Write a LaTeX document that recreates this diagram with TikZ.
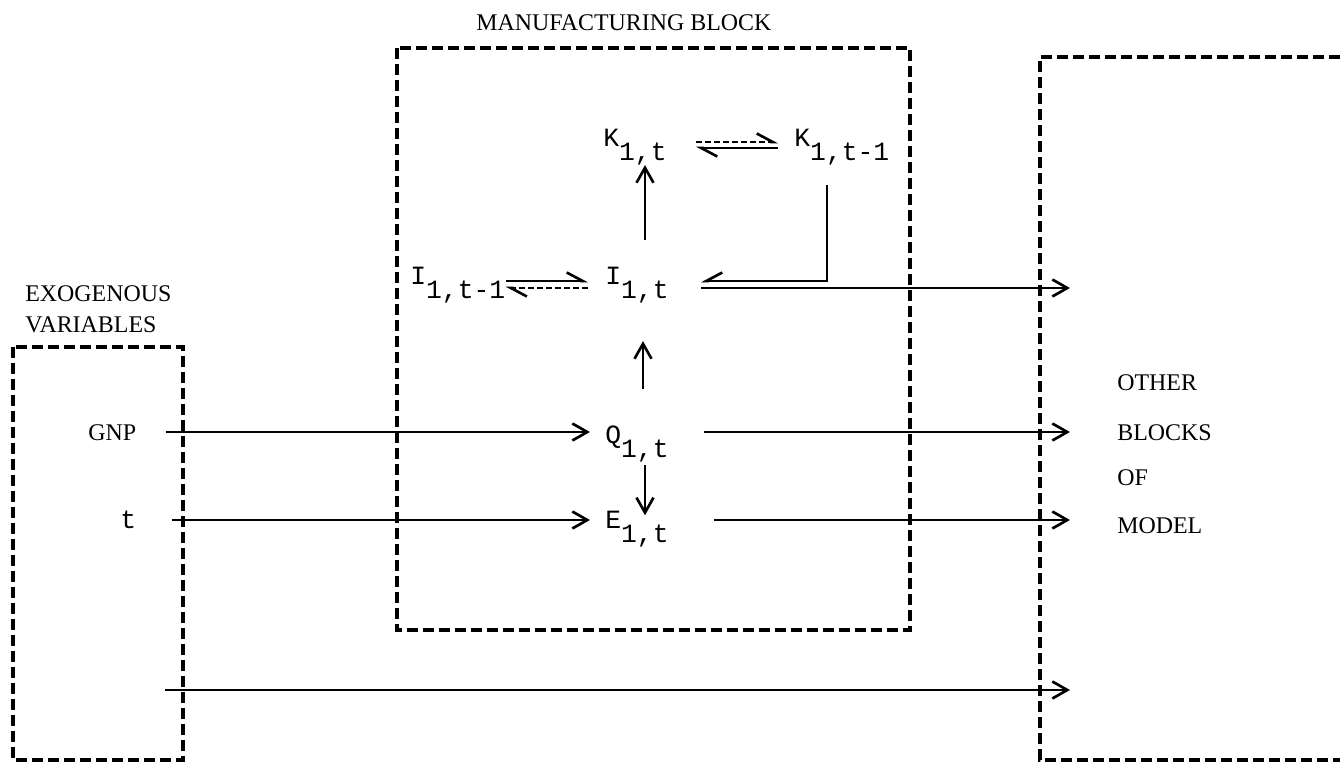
\documentclass[tikz,border=0pt]{standalone}
\usepackage{fontspec}
\setmainfont{Liberation Serif}
\setmonofont{Liberation Mono}
\usetikzlibrary{arrows.meta, calc, positioning}
\tikzset{
  % riquadro tratteggiato di un blocco
  blocco/.style={line width=1.8pt, dash pattern=on 2.2mm off 1mm},
  % variabile del modello (macchina da scrivere)
  var/.style={font=\fontsize{15}{17}\selectfont\ttfamily, inner sep=0pt, anchor=base west},
  % etichette in maiuscolo
  lbl/.style={font=\fontsize{13.6}{15}\selectfont, inner sep=0pt, anchor=base west},
  % collegamenti
  flusso/.style={-{Straight Barb[length=3mm, width=3.4mm]}, line width=1.5pt},
  ritardo/.style={-{Straight Barb[left, length=3.2mm, width=3.4mm]}, line width=1.5pt},
  ritardotr/.style={ritardo, dash pattern=on 1.2mm off 0.6mm},
}
\newcommand{\varsub}[2]{#1\raisebox{-8pt}{#2}}

\begin{document}
\begin{tikzpicture}[x=0.2mm, y=-0.2mm]
  \useasboundingbox (0,0) rectangle (1340,764);
  % titoli
  \node[lbl] (tit) at (476,30) {MANUFACTURING BLOCK};
  \node[lbl] (exo1) at (25,301) {EXOGENOUS};
  \node[lbl] (exo2) at (25,332) {VARIABLES};
  \foreach \y/\testo [count=\i] in {390/OTHER, 440/BLOCKS, 485/OF, 533/MODEL}
    \node[lbl] (alt\i) at (1117,\y) {\testo};
  % riquadri dei blocchi
  \draw[blocco] (397,48) rectangle (910,630);
  \draw[blocco] (13,347) rectangle (183,760);
  \draw[blocco] (1340,57) -- (1040,57) -- (1040,760) -- (1340,760);
  % variabili
  \node[var] (K)  at (603,146) {\varsub{K}{1,t}};
  \node[var] (Kr) at (794,146) {\varsub{K}{1,t-1}};
  \node[var] (Ir) at (410,284) {\varsub{I}{1,t-1}};
  \node[var] (I)  at (605,284) {\varsub{I}{1,t}};
  \node[var] (Q)  at (605,443) {\varsub{Q}{1,t}};
  \node[var] (E)  at (605,528) {\varsub{E}{1,t}};
  \node[lbl] (GNP) at (88,440) {GNP};
  \node[var] (tt) at (120,528) {t};
  % righe e uscita verso gli altri blocchi
  \coordinate (rK1) at (0,142);
  \coordinate (rK2) at (0,148);
  \coordinate (rI1) at (0,281);
  \coordinate (rI2) at (0,288);
  \coordinate (rQ) at (0,432);
  \coordinate (rE) at (0,520);
  \coordinate (uscita) at (1070,0);
  \coordinate (fondo) at (165,690);
  % legami con ritardo
  \draw[ritardotr, shorten <=5.8mm, shorten >=3.2mm] (K.east |- rK1) -- (Kr.west |- rK1);
  \draw[ritardo, shorten <=3.2mm, shorten >=5.8mm] (Kr.west |- rK2) -- (K.east |- rK2);
  \draw[ritardo, shorten >=3.4mm] (Ir.east |- rI1) -- (I.west |- rI1);
  \draw[ritardotr, shorten <=3.4mm] (I.west |- rI2) -- (Ir.east |- rI2);
  \draw[ritardo, shorten >=6.4mm, -{Straight Barb[right, length=3.2mm, width=3.4mm]}]
    ($(Kr.south)+(-15,20)$) |- (I.east |- rI1);
  % catena interna
  \draw[flusso] ($(I.north)+(8,-26)$) coordinate (ik) -- (ik |- K.south);
  \draw[flusso] ($(Q.north)+(6,-36)$) coordinate (qi) -- ($(qi |- I.south)+(0,38)$);
  \draw[flusso] ($(Q.south)+(8,3)$) coordinate (qe) -- ($(qe |- E.north)+(0,5)$);
  % ingressi esogeni
  \draw[flusso, shorten <=5.8mm, shorten >=3mm] (GNP.east |- rQ) -- (Q.west |- rQ);
  \draw[flusso, shorten <=7mm, shorten >=3mm] (tt.east |- rE) -- (E.west |- rE);
  % uscite
  \draw[flusso, shorten <=6.4mm] (I.east |- rI2) -- (uscita |- rI2);
  \draw[flusso, shorten <=7mm] (Q.east |- rQ) -- (uscita |- rQ);
  \draw[flusso, shorten <=9mm] (E.east |- rE) -- (uscita |- rE);
  \draw[flusso] (fondo) -- (fondo -| uscita);
\end{tikzpicture}
\end{document}
